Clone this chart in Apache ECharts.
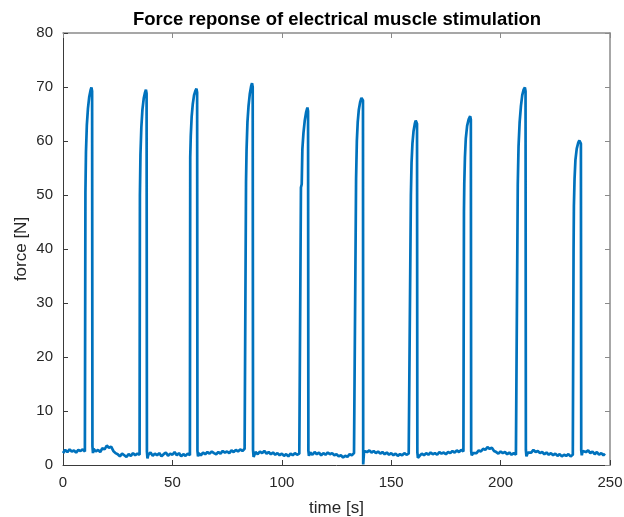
<!DOCTYPE html>
<html>
<head>
    <meta charset="UTF-8">
    <title>Force reponse of electrical muscle stimulation</title>
    <script src="https://cdn.jsdelivr.net/npm/echarts@6/dist/echarts.min.js"></script>
    <style>
        html, body { margin: 0; padding: 0; background: #fff; }
        #main { width: 624px; height: 517px; }
    </style>
</head>
<body>
<div id="main"></div>
<script>
    // [time s, force N], one array per stimulation cycle
    let cycle1 = [[0,2.2],[1,2.8],[2,2.4],[3,2.9],[4,2.5],[5,2.7],[6,2.3],[7,2.8],[8,2.6],[9,2.9],[10,2.5],[10.2,2.8],
        [10.25,50.5],[10.5,58],[10.9,63],[11.4,66],[12.0,68.2],[12.6,69.4],[13.0,69.9],[13.3,69.2],[13.45,3.5],[13.7,2.2]];
    let cycle2 = [[14,3.0],[15,2.5],[16,2.8],[17,2.4],[18,3.1],[19,2.9],[20,3.6],[21,3.2],[22,3.4],[23,2.6],[24,2.2],[25,2.0],
        [26,1.6],[27,2.1],[28,1.8],[29,1.5],[30,2.0],[31,1.7],[32,2.2],[33,1.8],[34,2.1],[35,1.9],
        [35.15,50],[35.4,57.5],[35.8,62.5],[36.3,65.8],[36.9,67.9],[37.5,69.0],[37.9,69.5],[38.2,68.8],[38.35,2.5],[38.6,1.2]];
    let cycle3 = [[39,1.9],[40,2.3],[41,1.7],[42,2.1],[43,1.8],[44,2.2],[45,1.6],[46,2.0],[47,2.3],[48,1.7],[49,2.1],[50,1.9],
        [51,2.4],[52,1.8],[53,2.2],[54,1.6],[55,2.0],[56,1.7],[57,2.1],[58,1.8],
        [58.15,57],[58.4,61],[58.8,64.5],[59.3,66.8],[59.9,68.5],[60.5,69.3],[61.0,69.7],[61.3,69.0],[61.45,2.6],[61.7,1.6]];
    let cycle4 = [[62,2.2],[63,1.8],[64,2.3],[65,2.0],[66,2.4],[67,2.1],[68,2.5],[69,2.2],[70,2.0],[71,2.4],[72,2.1],[73,2.6],
        [74,2.3],[75,2.5],[76,2.2],[77,2.7],[78,2.4],[79,2.8],[80,2.5],[81,2.9],[82,2.6],[83,3.0],[83.5,2.7],
        [83.65,52.5],[83.9,58.5],[84.3,63.5],[84.8,66.5],[85.4,68.8],[86.0,70.2],[86.4,70.7],[86.7,70.0],[86.85,2.8],[87.1,1.5]];
    let cycle5 = [[88,2.4],[89,2.0],[90,2.5],[91,2.2],[92,2.6],[93,2.1],[94,2.4],[95,2.0],[96,2.3],[97,1.9],[98,2.2],[99,1.8],
        [100,2.1],[101,1.7],[102,2.0],[103,1.6],[104,2.1],[105,1.8],[106,2.2],[107,1.9],[108,2.1],[108.6,1.9],
        [108.75,51.4],[109.1,52],[109.4,58.5],[109.9,61.5],[110.5,63.8],[111.1,65.3],[111.7,66.2],[112.0,65.5],[112.15,2.6],[112.4,1.7]];
    let cycle6 = [[113,2.3],[114,1.9],[115,2.4],[116,2.0],[117,2.3],[118,1.8],[119,2.2],[120,1.9],[121,2.3],[122,2.0],[123,2.2],
        [124,1.8],[125,2.0],[126,1.6],[127,1.8],[128,1.4],[129,1.7],[130,1.5],[131,2.0],[132,1.8],[133,2.2],[133.8,2.0],
        [133.95,53],[134.3,60],[134.7,63.5],[135.2,65.8],[135.8,67.2],[136.4,68.0],[136.9,68.3],[137.1,67.5],[137.2,0.1],[137.4,0.1],[137.6,2.6]];
    let cycle7 = [[138,2.8],[139,2.4],[140,2.7],[141,2.3],[142,2.6],[143,2.2],[144,2.5],[145,2.1],[146,2.4],[147,2.0],[148,2.3],
        [149,1.9],[150,2.2],[151,1.8],[152,2.1],[153,1.7],[154,2.0],[155,1.8],[156,2.2],[157,1.9],[158,2.1],[158.7,1.8],
        [158.85,43],[159.0,50],[159.3,56],[159.7,59.5],[160.2,61.8],[160.8,63.2],[161.2,63.8],[161.5,63.9],[161.8,63.2],[161.95,2.4],[162.2,1.3]];
    let cycle8 = [[163,1.7],[164,2.1],[165,1.8],[166,2.2],[167,1.9],[168,2.3],[169,2.0],[170,2.2],[171,1.9],[172,2.4],[173,2.1],
        [174,2.3],[175,2.0],[176,2.4],[177,2.2],[178,2.6],[179,2.3],[180,2.7],[181,2.4],[182,2.8],[183,2.5],
        [183.25,47],[183.4,52],[183.7,57],[184.1,60.5],[184.7,62.8],[185.4,64.0],[186.1,64.6],[186.4,64.0],[186.55,2.6],[186.8,1.8]];
    let cycle9 = [[187.5,2.2],[188,2.5],[189,2.2],[190,2.7],[191,2.5],[192,3.0],[193,2.8],[194,3.3],[195,3.0],[196,3.2],[197,2.6],
        [198,2.4],[199,2.1],[200,2.5],[201,2.2],[202,2.4],[203,2.0],[204,2.3],[205,1.9],[206,2.2],[207,1.9],[207.7,2.1],
        [207.85,52],[208.2,59],[208.7,63.5],[209.3,66.5],[209.9,68.5],[210.5,69.5],[211.1,69.9],[211.4,69.2],[211.55,2.8],[211.8,1.6]];
    let cycle10 = [[212.5,2.3],[213,2.6],[214,2.3],[215,2.8],[216,2.4],[217,2.6],[218,2.2],[219,2.4],[220,2.0],[221,2.3],[222,1.9],
        [223,2.2],[224,1.8],[225,2.1],[226,1.7],[227,2.0],[228,1.6],[229,1.9],[230,1.7],[231,2.0],[232,1.6],[233,1.9],[233.2,1.7],
        [233.35,40],[233.5,48],[233.8,53],[234.2,56.5],[234.8,58.6],[235.5,59.7],[236.0,60.1],[236.4,60.2],[236.7,59.5],[236.85,2.7],[237.1,1.8]];
    let tail = [[237.5,2.6],[238,2.9],[239,2.4],[240,2.7],[241,2.2],[242,2.5],[243,2.0],[244,2.4],[245,1.9],[246,2.2],[247,1.8],[247.7,2.1]];

    let force = [].concat(cycle1, cycle2, cycle3, cycle4, cycle5, cycle6, cycle7, cycle8, cycle9, cycle10, tail);

    let chart = echarts.init(document.getElementById('main'));

    let font = 'Liberation Sans, Arial, sans-serif';
    let tickLabel = { color: '#262626', fontSize: 15, fontFamily: font };

    // box axes (top / right) only carry the frame and inward ticks
    function boxAxis(pos, max, step) {
        return {
            type: 'value', min: 0, max: max, interval: step, position: pos,
            axisLine: { show: true, onZero: false, lineStyle: { color: '#8a8a8a', width: 1.5 } },
            axisTick: { show: true, inside: true, length: 5, lineStyle: { color: '#8a8a8a' } },
            axisLabel: { show: false },
            splitLine: { show: false }
        };
    }

    let option = {
        animation: false,
        backgroundColor: '#ffffff',
        title: {
            text: 'Force reponse of electrical muscle stimulation',
            left: 128,
            top: 5,
            textStyle: { color: '#000', fontSize: 18.5, fontWeight: 'bold', fontFamily: font }
        },
        grid: { left: 63, right: 14, top: 33, bottom: 52, containLabel: false, outerBoundsMode: 'none' },
        xAxis: [
            {
                type: 'value', min: 0, max: 250, interval: 50,
                name: 'time [s]', nameLocation: 'middle', nameGap: 35, nameMoveOverlap: false,
                nameTextStyle: { color: '#262626', fontSize: 17, fontFamily: font },
                axisLine: { show: true, onZero: false, lineStyle: { color: '#3a3a3a', width: 1 } },
                axisTick: { show: true, inside: true, length: 5, lineStyle: { color: '#3a3a3a' } },
                axisLabel: Object.assign({ margin: 10 }, tickLabel),
                splitLine: { show: false }
            },
            boxAxis('top', 250, 50)
        ],
        yAxis: [
            {
                type: 'value', min: 0, max: 80, interval: 10,
                name: 'force [N]', nameLocation: 'middle', nameGap: 33, nameMoveOverlap: false,
                nameTextStyle: { color: '#262626', fontSize: 17, fontFamily: font },
                axisLine: { show: true, onZero: false, lineStyle: { color: '#3a3a3a', width: 1 } },
                axisTick: { show: true, inside: true, length: 5, lineStyle: { color: '#3a3a3a' } },
                axisLabel: Object.assign({ margin: 10 }, tickLabel),
                splitLine: { show: false }
            },
            boxAxis('right', 80, 10)
        ],
        series: [
            {
                type: 'line',
                name: 'force',
                xAxisIndex: 0,
                yAxisIndex: 0,
                data: force,
                showSymbol: false,
                symbol: 'none',
                lineStyle: { color: '#0072BD', width: 2.7 },
                clip: false
            }
        ]
    };

    chart.setOption(option);
</script>
</body>
</html>
